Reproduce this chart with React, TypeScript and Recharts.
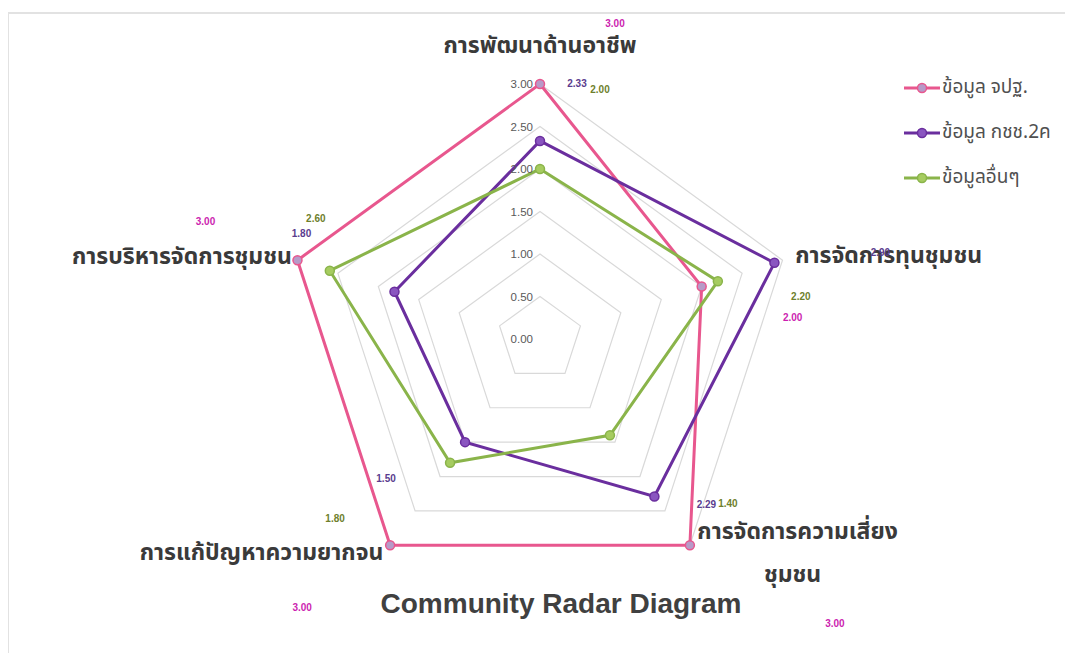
import React from 'react';
import { RadarChart, Radar, PolarGrid, PolarAngleAxis, PolarRadiusAxis, Legend } from 'recharts';

const categories = ['การพัฒนาด้านอาชีพ', 'การจัดการทุนชุมชน', 'การจัดการความเสี่ยงชุมชน', 'การแก้ปัญหาความยากจน', 'การบริหารจัดการชุมชน'];
const seriesNames = ['ข้อมูล จปฐ.', 'ข้อมูล กชช.2ค', 'ข้อมูลอื่นๆ'];
const jpthValues = [3.0, 2.0, 3.0, 3.0, 3.0];
const kchchValues = [2.33, 2.9, 2.29, 1.5, 1.8];
const otherValues = [2.0, 2.2, 1.4, 1.8, 2.6];
const radiusTicks = [0, 0.5, 1, 1.5, 2, 2.5, 3];
const title = 'Community Radar Diagram';

const data = categories.map((c, i) => ({
  category: c,
  s0: jpthValues[i],
  s1: kchchValues[i],
  s2: otherValues[i],
}));

const THAI_FONT = '"Noto Sans Thai", "Noto Sans", Tahoma, sans-serif';

const seriesStyle = [
  { key: 's0', stroke: '#E8578E', fill: '#B79AC8', labelColor: '#CC1FB0' },
  { key: 's1', stroke: '#6A2E9E', fill: '#8A55C0', labelColor: '#5A3C8E' },
  { key: 's2', stroke: '#8AB44A', fill: '#A6CC60', labelColor: '#6E7F2C' },
];

// label offsets (dx, dy) relative to each point, per series
const labelOffsets = [
  [[75, -61], [91, 31], [145, 78], [-88, 62], [-92, -39]],
  [[37, -57], [106, -10], [52, 8], [-79, 36], [-93, -58]],
  [[60, -80], [83, 15], [118, 68], [-115, 56], [-14, -52]],
];

// axis label layout: dx, dy relative to tick anchor, text anchor
const axisLabelLayout = [
  { dx: 0, dy: -30, anchor: 'middle' },
  { dx: 5, dy: -2, anchor: 'start' },
  { dx: 103, dy: -20, anchor: 'middle' },
  { dx: -2, dy: 1, anchor: 'end' },
  { dx: 2, dy: -1, anchor: 'end' },
];

const AngleTick = (props: any) => {
  const { x, y, payload, index } = props;
  const lay = axisLabelLayout[index] || { dx: 0, dy: 0, anchor: 'middle' };
  const text: string = payload.value;
  const common = {
    fontFamily: THAI_FONT,
    fontSize: 23,
    fontWeight: 700,
    fill: '#3a3a3a',
    textAnchor: lay.anchor as any,
    dominantBaseline: 'central' as any,
  };
  if (index === 2) {
    const l1 = 'การจัดการความเสี่ยง';
    const l2 = text.slice(l1.length);
    return (
      <g>
        <text x={x + lay.dx} y={y + lay.dy} {...common}>{l1}</text>
        <text x={x + lay.dx - 5} y={y + lay.dy + 43} {...common}>{l2}</text>
      </g>
    );
  }
  return (
    <text x={x + lay.dx} y={y + lay.dy} {...common}>{text}</text>
  );
};

const RadiusTick = (props: any) => {
  const { x, y, payload } = props;
  return (
    <text x={x - 7} y={y} textAnchor="end" dominantBaseline="central" fontFamily='"Liberation Sans", Arial, sans-serif' fontSize={11.5} fill="#595959">
      {Number(payload.value).toFixed(2)}
    </text>
  );
};

const makeLabel = (si: number) => (props: any) => {
  const { x, y, value, index } = props;
  const off = labelOffsets[si][index] || [0, 0];
  return (
    <text x={x + off[0]} y={y + off[1]} textAnchor="middle" dominantBaseline="central" fontFamily='"Liberation Sans", Arial, sans-serif' fontSize={10} fontWeight={700} fill={seriesStyle[si].labelColor}>
      {Number(value).toFixed(2)}
    </text>
  );
};

const LegendContent = (props: any) => {
  const items = [...(props.payload || [])].sort(
    (a: any, b: any) => seriesNames.indexOf(a.value) - seriesNames.indexOf(b.value)
  );
  return (
    <div style={{ display: 'flex', flexDirection: 'column' }}>
      {items.map((p: any) => {
        const si = Math.max(0, seriesNames.indexOf(p.value));
        const s = seriesStyle[si];
        return (
          <div key={p.value} style={{ height: 45, display: 'flex', alignItems: 'center' }}>
            <svg width={36} height={14} style={{ display: 'block' }}>
              <line x1={0} y1={7} x2={36} y2={7} stroke={s.stroke} strokeWidth={3} />
              <circle cx={18} cy={7} r={4.5} fill={s.fill} stroke={s.stroke} strokeWidth={1.5} />
            </svg>
            <span style={{ marginLeft: 2, fontFamily: THAI_FONT, fontSize: 19, color: '#505050' }}>{p.value}</span>
          </div>
        );
      })}
    </div>
  );
};

export default function App() {
  return (
    <div style={{ position: 'relative', width: 1065, height: 645, overflow: 'visible' }}>
      <div style={{ position: 'absolute', left: -1, top: 4, width: 1200, height: 800, borderTop: '2px solid #e2e2e2', borderLeft: '2px solid #e2e2e2', boxSizing: 'border-box' }} />
      <div style={{ position: 'absolute', left: 0, top: 0 }}>
        <RadarChart width={1065} height={645} data={data} cx={532} cy={331} outerRadius={255} margin={{ top: 0, right: 0, bottom: 0, left: 0 }}>
          <PolarGrid gridType="polygon" radialLines={false} stroke="#d9d9d9" strokeWidth={1.2} />
          <PolarAngleAxis dataKey="category" tick={<AngleTick />} tickLine={false} axisLine={false} />
          <PolarRadiusAxis angle={90} domain={[0, 3]} ticks={radiusTicks as any} tick={<RadiusTick />} axisLine={false} tickLine={false} />
          {seriesStyle.map((s, si) => (
            <Radar
              key={s.key}
              name={seriesNames[si]}
              dataKey={s.key}
              stroke={s.stroke}
              strokeWidth={3}
              fill="none"
              fillOpacity={0}
              dot={{ r: 4.5, fill: s.fill, stroke: s.stroke, strokeWidth: 1.5, fillOpacity: 1 }}
              label={makeLabel(si)}
              isAnimationActive={false}
            />
          ))}
          <Legend layout="vertical" align="right" verticalAlign="top" content={<LegendContent />} wrapperStyle={{ position: 'absolute', left: 896, top: 57, width: 175 }} />
        </RadarChart>
      </div>
      <div style={{ position: 'absolute', left: 303, top: 579, width: 500, textAlign: 'center', fontFamily: '"Liberation Sans", Arial, sans-serif', fontWeight: 700, fontSize: 28, lineHeight: '33px', color: '#404040' }}>
        {title}
      </div>
    </div>
  );
}
